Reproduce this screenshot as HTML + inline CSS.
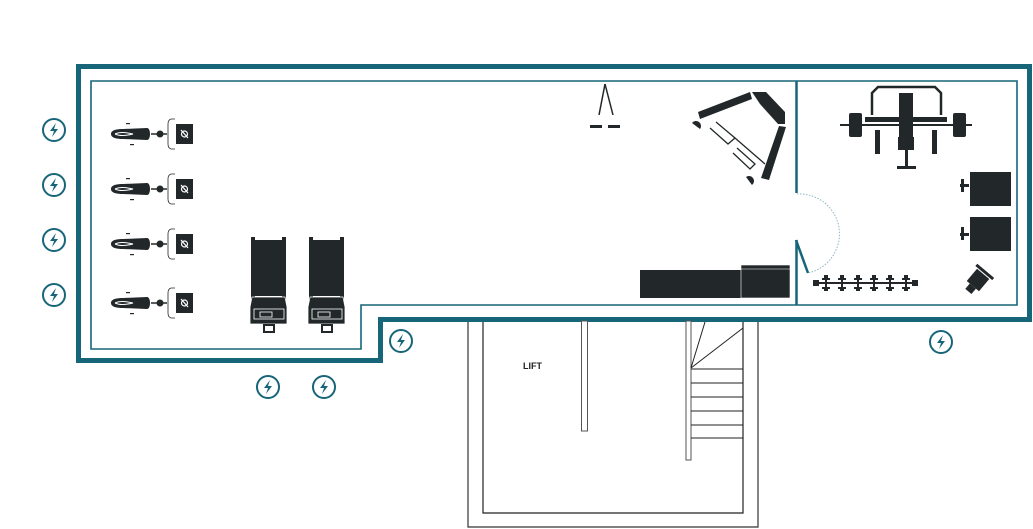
<!DOCTYPE html>
<html><head><meta charset="utf-8"><style>
html,body{margin:0;padding:0;background:#fff;}
svg{display:block;}
</style></head><body>
<svg width="1033" height="529" viewBox="0 0 1033 529" xmlns="http://www.w3.org/2000/svg">
<defs>
<g id="bolt">
<circle r="11" fill="none" stroke="#176579" stroke-width="2"/>
<path d="M2,-7 L-4,1 L0,1 L-2,7 L4,-1 L0,-1 Z" fill="#176579"/>
</g>
<g id="bike">
<path d="M0,0 C0,-4 6,-5 12,-5 L36,-6 C40,-6 40,6 36,6 L12,5 C6,5 0,4 0,0 Z" fill="#222829"/>
<path d="M4,0 C8,-2 14,-2 22,0 C14,2 8,2 4,0" fill="none" stroke="#fff" stroke-width="1"/>
<rect x="15" y="-11" width="4" height="1.2" fill="#222829"/>
<rect x="19" y="10" width="4" height="1.2" fill="#222829"/>
<line x1="40" y1="0" x2="46" y2="0" stroke="#222829" stroke-width="1.5"/>
<circle cx="49" cy="0" r="3.5" fill="#222829"/>
<line x1="52" y1="0" x2="56" y2="0" stroke="#222829" stroke-width="1.5"/>
<path d="M64,-15 L60,-15 Q57,-14 57,-10 L57,10 Q57,14 60,15 L64,15" fill="none" stroke="#222829" stroke-width="0.8"/>
<rect x="65" y="-10" width="17" height="20" fill="#222829"/>
<circle cx="73.5" cy="0" r="3" fill="none" stroke="#fff" stroke-width="1.2"/>
<line x1="70" y1="-4" x2="77" y2="4" stroke="#fff" stroke-width="1.2"/>
</g>
<g id="tread">
<rect x="0" y="0" width="4" height="70" fill="#222829"/>
<rect x="31" y="0" width="4" height="70" fill="#222829"/>
<rect x="4" y="3" width="27" height="56" fill="#222829"/>
<path d="M1,60 L34,60 L36,70 L36,87 L-1,87 L-1,70 Z" fill="#222829" stroke="#fff" stroke-width="0.8"/>
<rect x="3" y="72" width="30" height="10" fill="none" stroke="#fff" stroke-width="0.8"/>
<rect x="9" y="75" width="12" height="5" fill="none" stroke="#fff" stroke-width="0.8"/>
<rect x="12" y="87" width="12" height="9" fill="#222829"/>
<rect x="14" y="89" width="8" height="5" fill="#fff"/>
</g>
<g id="db">
<rect x="-2" y="-8" width="4" height="3" fill="#222829"/>
<rect x="-4" y="-5" width="8" height="2" fill="#222829"/>
<rect x="-1" y="-3" width="2" height="7" fill="#222829"/>
<rect x="-4" y="4" width="8" height="2" fill="#222829"/>
<rect x="-2" y="6" width="4" height="2" fill="#222829"/>
</g>
</defs>

<!-- outer thick wall -->
<path d="M78.5,66.5 L1029.5,66.5 L1029.5,319.5 L380.5,319.5 L380.5,360.5 L78.5,360.5 Z" fill="none" stroke="#176579" stroke-width="5"/>
<!-- inner thin wall -->
<path d="M91,81 L1017,81 L1017,305 L361,305 L361,349 L91,349 Z" fill="none" stroke="#176579" stroke-width="1.6"/>
<!-- divider -->
<line x1="796.5" y1="81" x2="796.5" y2="193" stroke="#176579" stroke-width="2.5"/>
<line x1="796.5" y1="240" x2="796.5" y2="305" stroke="#176579" stroke-width="2.5"/>
<line x1="796" y1="240" x2="808" y2="273" stroke="#176579" stroke-width="2.5"/>
<path d="M797,194 A40,40 0 0 1 808,273" fill="none" stroke="#8fb5c2" stroke-width="1" stroke-dasharray="1.5,1.5"/>

<!-- lift building -->
<path d="M468,322 L468,527 L758,527 L758,322" fill="none" stroke="#333" stroke-width="1.2"/>
<path d="M483,322 L483,513 L743,513 L743,322" fill="none" stroke="#222" stroke-width="1.2"/>
<rect x="581.5" y="321" width="6" height="110" fill="#fff" stroke="#555" stroke-width="1"/>
<rect x="686" y="321" width="5" height="139" fill="#fff" stroke="#555" stroke-width="1"/>
<g stroke="#222" stroke-width="1">
<line x1="691" y1="369" x2="743" y2="369"/>
<line x1="691" y1="383" x2="743" y2="383"/>
<line x1="691" y1="397" x2="743" y2="397"/>
<line x1="691" y1="411" x2="743" y2="411"/>
<line x1="691" y1="425" x2="743" y2="425"/>
<line x1="691" y1="438" x2="743" y2="438"/>
<line x1="691" y1="368" x2="705" y2="322"/>
<line x1="691" y1="368" x2="743" y2="328"/>
</g>
<text x="523" y="369" font-family="Liberation Sans, sans-serif" font-size="9" font-weight="bold" fill="#222">LIFT</text>

<!-- bolts -->
<use href="#bolt" x="54" y="130"/>
<use href="#bolt" x="54" y="185"/>
<use href="#bolt" x="54" y="240"/>
<use href="#bolt" x="54" y="295"/>
<use href="#bolt" x="401" y="341"/>
<use href="#bolt" x="268" y="387"/>
<use href="#bolt" x="324" y="387"/>
<use href="#bolt" x="941" y="342"/>

<!-- bikes -->
<use href="#bike" x="111" y="134"/>
<use href="#bike" x="111" y="189"/>
<use href="#bike" x="111" y="244"/>
<use href="#bike" x="111" y="303"/>

<!-- treadmills -->
<use href="#tread" x="251" y="237"/>
<use href="#tread" x="309" y="237"/>

<!-- cable crossover top -->
<g stroke="#222829" stroke-width="1.5" fill="none">
<line x1="605" y1="84" x2="599" y2="115"/>
<line x1="605" y1="84" x2="613" y2="115"/>
</g>
<rect x="590" y="125" width="12" height="3" fill="#222829"/>
<rect x="608" y="125" width="12" height="3" fill="#222829"/>

<!-- rack machine -->
<g fill="#222829">
<polygon points="698,112 750,92 752,99 700,119"/>
<path d="M752,92 L766,92 L785,112 L785,124 L778,124 L760,104 Z"/>
<polygon points="779,126 786,127 769,180 761,178"/>
<path d="M692,123 a5,5 0 0 1 8,6 z"/>
<path d="M746,177 a5,5 0 0 1 6,8 z"/>
</g>
<g stroke="#222829" stroke-width="1.3" fill="none">
<path d="M716,122 L735,138 L728,144 L710,128"/>
<path d="M735,138 L765,164"/>
<path d="M737,148 L755,164 L750,169 L733,153"/>
</g>

<!-- bottom black boxes -->
<rect x="640" y="270" width="101" height="28" fill="#222829"/>
<rect x="741" y="265" width="49" height="33" fill="#222829" stroke="#fff" stroke-width="0.6"/>
<line x1="741" y1="269" x2="790" y2="269" stroke="#fff" stroke-width="0.6"/>

<!-- bench press -->
<g fill="#222829">
<path d="M872,115 L872,93 L878,87 L935,87 L941,93 L941,115" fill="none" stroke="#222829" stroke-width="2.5"/>
<rect x="899" y="93" width="14" height="55" />
<rect x="865" y="117" width="82" height="5"/>
<rect x="840" y="124" width="132" height="2"/>
<rect x="849" y="113" width="13" height="24" rx="2"/>
<rect x="953" y="113" width="13" height="24" rx="2"/>
<rect x="898" y="137" width="16" height="13"/>
<rect x="875" y="130" width="5" height="24"/>
<rect x="932" y="130" width="5" height="24"/>
<rect x="905" y="150" width="3" height="16"/>
<rect x="897" y="166" width="19" height="3"/>
</g>

<!-- right side boxes -->
<rect x="970" y="172" width="41" height="34" fill="#222829"/>
<rect x="960" y="184" width="9" height="3" fill="#222829"/>
<rect x="961" y="179" width="3" height="13" fill="#222829"/>
<rect x="970" y="217" width="41" height="34" fill="#222829"/>
<rect x="960" y="233" width="9" height="3" fill="#222829"/>
<rect x="961" y="227" width="3" height="13" fill="#222829"/>

<!-- dumbbell rack -->
<rect x="813" y="280" width="6" height="6" fill="#222829"/>
<rect x="912" y="280" width="6" height="6" fill="#222829"/>
<g fill="#222829">
<rect x="819" y="282" width="93" height="2"/>
</g>
<use href="#db" x="826" y="283"/>
<use href="#db" x="842" y="283"/>
<use href="#db" x="858" y="283"/>
<use href="#db" x="874" y="283"/>
<use href="#db" x="890" y="283"/>
<use href="#db" x="906" y="283"/>

<!-- tilted machine -->
<g transform="translate(978,280) rotate(40)">
<rect x="-8" y="-8" width="16" height="16" fill="#222829"/>
<rect x="-4" y="8" width="8" height="7" fill="#222829"/>
<rect x="-11" y="-12" width="22" height="3" fill="#222829"/>
</g>
</svg>
</body></html>
